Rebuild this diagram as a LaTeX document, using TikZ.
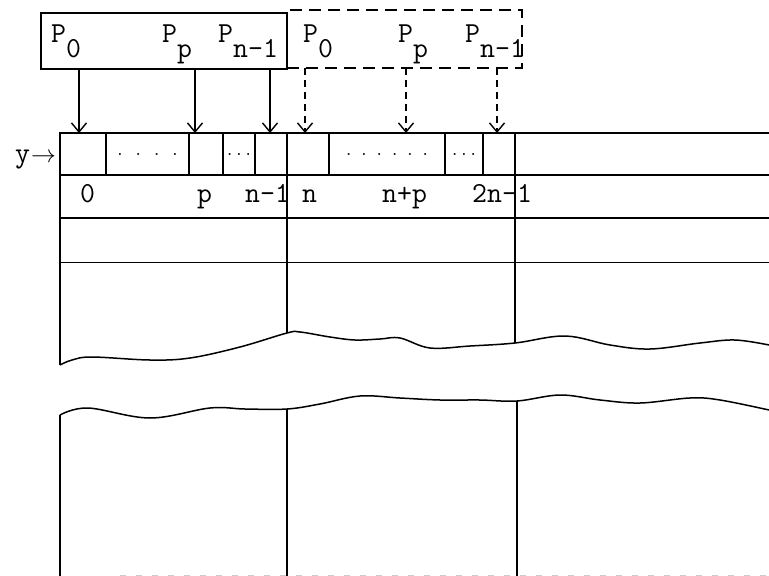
\documentclass[tikz,border=0pt]{standalone}
\usetikzlibrary{arrows.meta,positioning}
\newcommand{\lowsub}[1]{\raisebox{-15pt}{#1}}

\begin{document}
\begin{tikzpicture}[x=1pt, y=-1pt,
  lbl/.style={font=\ttfamily\fontsize{29}{30}\selectfont, inner sep=0pt, anchor=base west},
  dots/.style={font=\ttfamily\fontsize{18}{18}\selectfont},
  cell/.style={draw, line width=1.3pt, minimum height=42pt, inner sep=0pt, outer sep=0pt},
  group/.style={draw, minimum height=56pt, inner sep=0pt, outer sep=0pt, anchor=north west},
  rule/.style={line width=1.3pt},
  wall/.style={line width=1.5pt},
  arr/.style={-{Straight Barb[length=9pt, width=15pt]}, line width=1.4pt},
  darr/.style={arr, dash pattern=on 7pt off 5pt}
]
\useasboundingbox (0,0) rectangle (769,576);

% processor groups
\node[group, line width=1.5pt, minimum width=246pt] (lo) at (41,13) {};
\node[group, line width=1.3pt, dash pattern=on 12pt off 7pt, minimum width=235pt, minimum height=58pt] (hi) at (287,10) {};

\node[lbl] (p0) at (51,42) {P\lowsub{0}};
\node[lbl] (pp) at (162,42) {P\lowsub{p}};
\node[lbl] (pn) at (218,42) {P\lowsub{n-1}};
\node[lbl] (q0) at (303,42) {P\lowsub{0}};
\node[lbl] (qp) at (398,42) {P\lowsub{p}};
\node[lbl] (qn) at (465,42) {P\lowsub{n-1}};

% vector y
\node[lbl] (yv) at (15,162) {y\hspace{1pt}$\to$};
\node[cell, minimum width=46pt, anchor=north west] (c0) at (60,133) {};
\node[cell, dots, minimum width=83pt, right=0pt of c0] (c1) {.\hspace{9pt}.\hspace{9pt}.\hspace{9pt}.};
\node[cell, minimum width=34pt, right=0pt of c1] (c2) {};
\node[cell, dots, minimum width=32pt, right=0pt of c2] (c3) {...};
\node[cell, minimum width=32pt, right=0pt of c3] (c4) {};
\node[cell, minimum width=42pt, right=0pt of c4] (c5) {};
\node[cell, dots, minimum width=116pt, right=0pt of c5] (c6) {.\hspace{6pt}.\hspace{6pt}.\hspace{6pt}.\hspace{6pt}.\hspace{6pt}.};
\node[cell, dots, minimum width=38pt, right=0pt of c6] (c7) {...};
\node[cell, minimum width=32pt, right=0pt of c7] (c8) {};
\coordinate (edge) at (769,133);

% indices
\node[lbl] (i0) at (80,202) {0};
\node[lbl] (ip) at (197,202) {p};
\node[lbl] (in) at (245,202) {n-1};
\node[lbl] (j0) at (302,202) {n};
\node[lbl] (jp) at (382,202) {n+p};
\node[lbl] (jn) at (472,202) {2n-1};

% arrows into y
\coordinate (t0) at (79,133);
\coordinate (tp) at (195,133);
\coordinate (tn) at (270,133);
\coordinate (u0) at (305,133);
\coordinate (up) at (406,133);
\coordinate (un) at (497,133);
\draw[arr] (t0 |- lo.south) -- (t0);
\draw[arr] (tp |- lo.south) -- (tp);
\draw[arr] (tn |- lo.south) -- (tn);
\draw[darr] (u0 |- hi.south) -- (u0);
\draw[darr] (up |- hi.south) -- (up);
\draw[darr] (un |- hi.south) -- (un);

% rows
\draw[rule] (c8.north east) -- (edge);
\draw[rule] (c0.south west) -- (c0.south west -| edge);
\draw[rule] (60,218) -- (769,218);
\draw[line width=0.8pt] (60,262) -- (769,262);

% columns
\draw[wall] (c0.north west) -- (60,365);
\draw[wall] (c5.north west) -- (287,333);
\draw[wall] (c8.north east) -- (515,343);

% break
\draw[wall] plot[smooth, tension=0.6] coordinates {(60,365) (72,360) (92,357) (150,360) (190,358) (240,347) (287,333) (300,332) (330,337) (355,340) (380,339) (400,338) (430,348) (470,346) (515,343) (565,336) (610,345) (650,349) (700,343) (735,340) (769,345)};
\draw[wall] plot[smooth, tension=0.6] coordinates {(60,415) (88,408) (150,418) (210,408) (245,409) (287,409) (320,404) (360,396) (400,398) (440,400) (480,400) (517,401) (560,395) (600,400) (640,403) (690,398) (720,400) (769,410)};

\draw[wall] (60,415) -- (60,576);
\draw[wall] (287,409) -- (287,576);
\draw[wall] (517,401) -- (517,576);
\draw[gray!40, line width=0.8pt, dash pattern=on 6pt off 10pt] (120,575) -- (769,575);

\end{tikzpicture}
\end{document}
